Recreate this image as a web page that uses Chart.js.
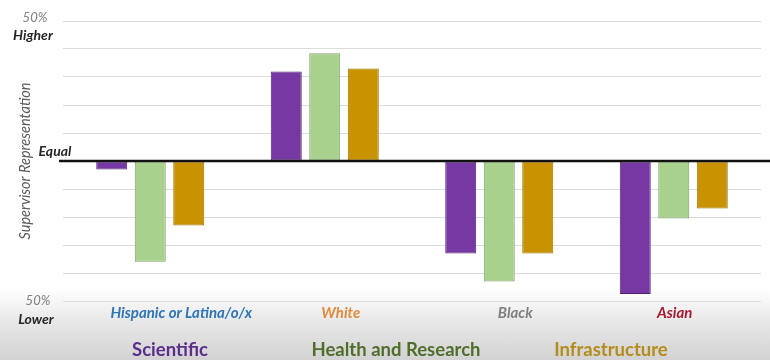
<!doctype html>
<html lang="en">
<head>
<meta charset="utf-8">
<title>Supervisor Representation</title>
<style>
  html, body {margin: 0; padding: 0;}
  body {
    width: 770px; height: 360px; overflow: hidden;
    background: linear-gradient(to bottom, #ffffff 0px, #ffffff 288px, #e9e9e9 320px, #d2d2d2 360px);
  }
  canvas {display: block;}
</style>
</head>
<body>
<canvas id="myChart" width="770" height="360"></canvas>

<script src="https://cdn.jsdelivr.net/npm/chart.js@4.4.1/dist/chart.umd.min.js"></script>
<script>
// categories and series (percent difference in supervisor representation)
var groups = ["Hispanic or Latina/o/x", "White", "Black", "Asian"];
var groupColors = ["#2e75b6", "#e08a3c", "#7f7f7f", "#a6192e"];
var scientific = [-3, 32, -33, -47.5];
var health = [-36, 38.5, -43, -20.5];
var infrastructure = [-23, 33, -33, -17];
var seriesNames = ["Scientific", "Health and Research", "Infrastructure"];
var seriesFill = ["#7638a3", "#a9d18e", "#c89200"];
var seriesBorder = ["#4e2273", "#7f9e6a", "#9c7200"];
var seriesText = ["#5c2d8c", "#4f6e2b", "#b48c1c"];

var FONT = "Lato, 'Open Sans', sans-serif";
// category labels sit a little off the group centres in the original slide
var labelShift = [31, 16, 16, 1];

// y axis side labels, category labels, zero line, and bottom legend
var decorations = {
  id: 'decorations',
  afterDatasetsDraw: function(chart) {
    var ctx = chart.ctx;
    var y = chart.scales.y;
    var x = chart.scales.x;
    var area = chart.chartArea;
    ctx.save();

    // zero ("Equal") line
    ctx.strokeStyle = "#111";
    ctx.lineWidth = 2.5;
    ctx.beginPath();
    ctx.moveTo(area.left - 4, y.getPixelForValue(0));
    ctx.lineTo(chart.width, y.getPixelForValue(0));
    ctx.stroke();

    ctx.textAlign = "center";
    ctx.textBaseline = "middle";
    var top = y.getPixelForValue(50), bot = y.getPixelForValue(-50), mid = y.getPixelForValue(0);
    ctx.fillStyle = "#808080";
    ctx.font = "italic 13px " + FONT;
    ctx.fillText("50%", 35, top - 3);
    ctx.fillText("50%", 38, bot);
    ctx.fillStyle = "#262626";
    ctx.font = "italic bold 14px " + FONT;
    ctx.fillText("Higher", 33, top + 14);
    ctx.fillText("Lower", 36, bot + 18);
    ctx.fillText("Equal", 55, mid - 10);

    // category labels
    ctx.font = "italic bold 15px " + FONT;
    groups.forEach(function(g, i) {
      ctx.fillStyle = groupColors[i];
      ctx.fillText(g, x.getPixelForValue(i) + labelShift[i], area.bottom + 12);
    });

    // axis title
    ctx.save();
    ctx.translate(25, (area.top + area.bottom) / 2);
    ctx.rotate(-Math.PI / 2);
    ctx.fillStyle = "#5a5a5a";
    ctx.font = "italic 14.5px " + FONT;
    ctx.fillText("Supervisor Representation", 0, 0);
    ctx.restore();

    // legend (text only)
    var pos = [170, 396, 611];
    ctx.font = "bold 18.5px " + FONT;
    seriesNames.forEach(function(name, i) {
      ctx.fillStyle = seriesText[i];
      ctx.fillText(name, pos[i], 350);
    });
    ctx.restore();
  }
};

var datasets = [scientific, health, infrastructure].map(function(vals, i) {
  return {
    label: seriesNames[i],
    data: vals,
    backgroundColor: seriesFill[i],
    borderColor: seriesBorder[i],
    borderWidth: 1,
    borderSkipped: false,
    categoryPercentage: 0.662,
    barPercentage: 0.805
  };
});

var myChart = new Chart(document.getElementById('myChart').getContext('2d'), {
  type: 'bar',
  data: {labels: groups, datasets: datasets},
  plugins: [decorations],
  options: {
    responsive: false,
    animation: false,
    layout: {padding: {left: 63, right: 9, top: 21, bottom: 0}},
    plugins: {legend: {display: false}, tooltip: {enabled: false}, title: {display: false}},
    scales: {
      x: {
        grid: {display: false, drawTicks: false},
        border: {display: false},
        ticks: {display: false},
        afterFit: function(scale) { scale.height = 59; }
      },
      y: {
        min: -50, max: 50,
        border: {display: false},
        grid: {
          drawTicks: false,
          color: function(c) { return c.tick.value === 0 ? 'rgba(0,0,0,0)' : '#dcdcdc'; },
          lineWidth: 1
        },
        ticks: {display: false, stepSize: 10},
        afterFit: function(scale) { scale.width = 0; }
      }
    }
  }
});
</script>
</body>
</html>
